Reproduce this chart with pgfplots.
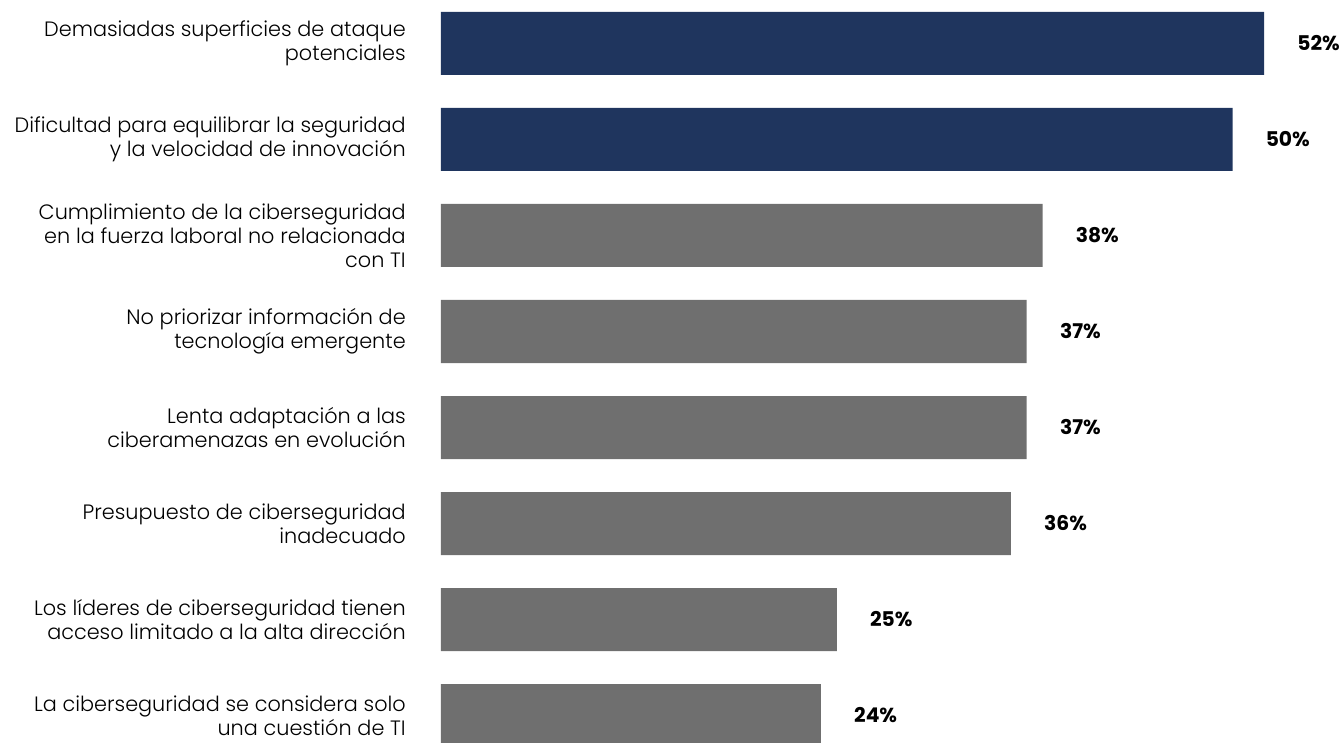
\documentclass[border=0pt]{standalone}
\usepackage{pgfplots}
\pgfplotsset{compat=1.18}
\usepackage{fontspec}
\setmainfont{Poppins}[UprightFont={* Light}, BoldFont={* Bold}]
\definecolor{navy}{HTML}{1F355E}
\definecolor{barg}{HTML}{6F6F6F}
\begin{document}
\begin{tikzpicture}
\begin{axis}[
  xbar,
  scale only axis,
  width=617.4pt, height=556.5pt,
  xmin=0, xmax=52,
  ymin=-0.453, ymax=7.276,
  y dir=reverse,
  enlargelimits=false,
  clip=false,
  axis line style={draw=none},
  major tick length=0pt,
  xtick=\empty,
  ytick={0,...,7},
  yticklabels={
    {Demasiadas superficies de ataque\\potenciales},
    {Dificultad para equilibrar la seguridad\\y la velocidad de innovación},
    {Cumplimiento de la ciberseguridad\\en la fuerza laboral no relacionada\\con TI},
    {No priorizar información de\\tecnología emergente},
    {Lenta adaptación a las\\ciberamenazas en evolución},
    {Presupuesto de ciberseguridad\\inadecuado},
    {Los líderes de ciberseguridad tienen\\acceso limitado a la alta dirección},
    {La ciberseguridad se considera solo\\una cuestión de TI}},
  yticklabel style={align=right, inner sep=0pt, xshift=-26.25pt,
    font=\fontsize{15.6}{18}\selectfont, text=black},
  bar width=47.25pt,
  bar shift=0pt,
  nodes near coords={\pgfmathprintnumber[assume math mode=true]{\pgfplotspointmeta}\%},
  nodes near coords style={anchor=west, xshift=24.75pt, inner sep=0pt,
    font=\fontsize{15.2}{18}\bfseries\selectfont, text=black},
]
\addplot[fill=navy, draw=none] coordinates {(52,0) (50,1)};
\addplot[fill=barg, draw=none] coordinates {(38,2) (37,3) (37,4) (36,5) (25,6) (24,7)};
\coordinate (tl) at (axis cs:0,-0.453);
\end{axis}
\pgfresetboundingbox
\path[use as bounding box] ([xshift=-330.75pt]tl) rectangle ++(1008pt,-556.5pt);
\end{tikzpicture}
\end{document}
